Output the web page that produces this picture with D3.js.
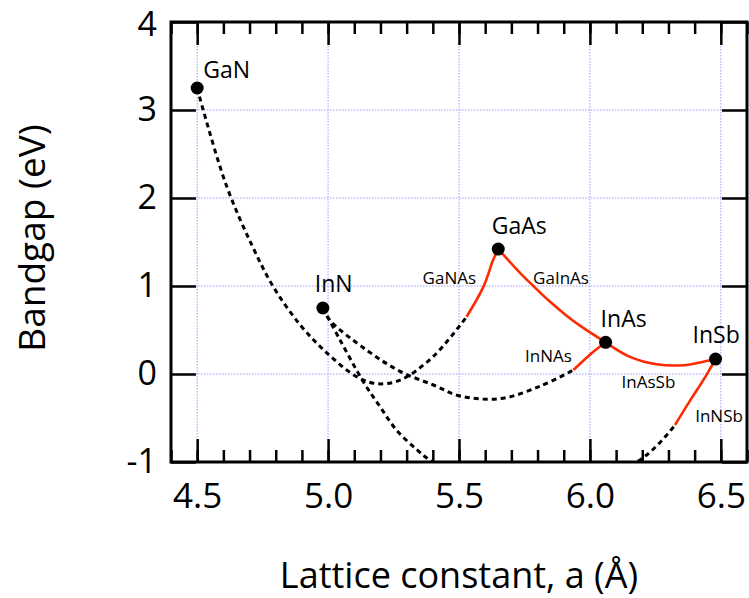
<!DOCTYPE html>
<html>
<head>
<meta charset="utf-8">
<script src="https://cdn.jsdelivr.net/npm/d3@7"></script>
<style>
  body{margin:0;background:#fff;}
  svg{display:block;font-family:"Open Sans",Lato,sans-serif;}
</style>
</head>
<body>
<div id="chart"></div>
<script>
// binary end points: lattice constant (A) and bandgap (eV)
var materials = ["GaN", "InN", "GaAs", "InAs", "InSb"];
var latticeA = [4.50, 4.98, 5.65, 6.06, 6.48];
var bandgapEg = [3.25, 0.75, 1.42, 0.36, 0.17];

// alloy curves, [a, Eg]
var gaNAsDash = [[4.50,3.25],[4.523,3.00],[4.613,2.13],[4.708,1.47],[4.791,0.99],[4.893,0.56],[4.995,0.24],
  [5.109,-0.03],[5.186,-0.11],[5.275,-0.07],[5.402,0.20],[5.529,0.65]];
var gaNAsSolid = [[5.529,0.65],[5.593,0.99],[5.631,1.30],[5.65,1.42]];
var gaInAsSolid = [[5.65,1.42],[5.733,1.15],[5.784,1.00],[5.848,0.82],[5.912,0.66],[5.962,0.55],[6.06,0.36]];
var inNAsDash = [[4.98,0.75],[5.007,0.61],[5.148,0.27],[5.275,0.03],[5.402,-0.125],[5.504,-0.25],[5.657,-0.28],
  [5.809,-0.14],[5.937,0.045]];
var inNAsSolid = [[5.937,0.045],[6.00,0.22],[6.06,0.36]];
var inAsSbSolid = [[6.06,0.36],[6.153,0.195],[6.255,0.11],[6.357,0.10],[6.433,0.14],[6.48,0.17]];
// InNSb dips below the axis; the hidden part is only a rough guess, it is clipped
var inNSbDash = [[4.98,0.75],[5.045,0.39],[5.135,-0.09],[5.198,-0.37],[5.262,-0.64],[5.339,-0.86],[5.389,-0.98],
  [5.6,-1.35],[5.8,-1.44],[6.0,-1.28],[6.217,-0.92],[6.325,-0.58]];
var inNSbSolid = [[6.325,-0.58],[6.383,-0.30],[6.433,-0.07],[6.48,0.17]];

// alloy names and where their labels sit, [a, Eg]
var alloyNames = ["GaNAs", "GaInAs", "InNAs", "InAsSb", "InNSb"];
var alloyLabelAt = [[5.361,1.02],[5.783,1.02],[5.752,0.136],[6.121,-0.159],[6.402,-0.542]];

var xMajor = [4.5, 5.0, 5.5, 6.0, 6.5];
var yMajor = [-1, 0, 1, 2, 3, 4];

var width = 749, height = 598;
var x = d3.scaleLinear().domain([4.4, 6.6]).range([171, 747]),
  y = d3.scaleLinear().domain([-1, 4]).range([462, 22]);

var svg = d3.select("#chart").append("svg")
  .attr("width", width).attr("height", height);

svg.append("clipPath").attr("id", "plotclip").append("rect")
  .attr("x", 171).attr("y", 22).attr("width", 576).attr("height", 440);

// grid
var grid = svg.append("g").attr("stroke", "#9a9aff").attr("stroke-width", 1).attr("stroke-dasharray", "1.5,1.5");
grid.selectAll(".gx").data(xMajor).enter().append("line")
  .attr("x1", x).attr("x2", x).attr("y1", y(4)).attr("y2", y(-1));
grid.selectAll(".gy").data([0, 1, 2, 3]).enter().append("line")
  .attr("x1", x(4.4)).attr("x2", x(6.6)).attr("y1", y).attr("y2", y);

// axes, ticks pointing inwards
function styleAxis(g){
  g.select(".domain").remove();
  g.selectAll(".tick line").attr("stroke", "#000").attr("stroke-width", 2.5);
  g.selectAll("text").attr("fill", "#000").attr("font-size", 35).attr("font-family", "Open Sans");
}
var minorX = d3.range(44, 67).map(function(d){ return d / 10; });

svg.append("g").attr("transform", "translate(0,462)")
  .call(d3.axisBottom(x).tickValues(minorX).tickSizeInner(-12).tickSizeOuter(0).tickFormat(""))
  .call(styleAxis);
svg.append("g").attr("transform", "translate(0,462)")
  .call(d3.axisBottom(x).tickValues(xMajor).tickSizeInner(-23).tickSizeOuter(0)
    .tickPadding(21).tickFormat(d3.format(".1f")))
  .call(styleAxis);
svg.append("g").attr("transform", "translate(0,22)")
  .call(d3.axisTop(x).tickValues(minorX).tickSizeInner(-12).tickSizeOuter(0).tickFormat(""))
  .call(styleAxis);
svg.append("g").attr("transform", "translate(0,22)")
  .call(d3.axisTop(x).tickValues(xMajor).tickSizeInner(-23).tickSizeOuter(0).tickFormat(""))
  .call(styleAxis);
var yAxisG = svg.append("g").attr("transform", "translate(171,0)")
  .call(d3.axisLeft(y).tickValues(yMajor).tickSizeInner(-25).tickSizeOuter(0).tickPadding(14)
    .tickFormat(function(d){ return String(d); }))
  .call(styleAxis);
yAxisG.selectAll("text").attr("font-size", 34);
// top label sits right at the frame edge, nudge it so it stays on the page
yAxisG.selectAll(".tick").filter(function(d){ return d === 4; }).select("text").attr("y", 3);
svg.append("g").attr("transform", "translate(747,0)")
  .call(d3.axisRight(y).tickValues(yMajor).tickSizeInner(-25).tickSizeOuter(0).tickFormat(""))
  .call(styleAxis);

// frame
svg.append("rect").attr("x", 171).attr("y", 22).attr("width", 576).attr("height", 440)
  .attr("fill", "none").attr("stroke", "#000").attr("stroke-width", 3);

// curves
var line = d3.line()
  .x(function(d){ return x(d[0]); })
  .y(function(d){ return y(d[1]); })
  .curve(d3.curveCatmullRom.alpha(0.5));

var curves = svg.append("g").attr("clip-path", "url(#plotclip)").attr("fill", "none");
[gaNAsDash, inNAsDash, inNSbDash].forEach(function(c){
  curves.append("path").attr("d", line(c))
    .attr("stroke", "#000").attr("stroke-width", 3).attr("stroke-dasharray", "5,4");
});
[gaNAsSolid, gaInAsSolid, inNAsSolid, inAsSbSolid, inNSbSolid].forEach(function(c){
  curves.append("path").attr("d", line(c))
    .attr("stroke", "#ff2a00").attr("stroke-width", 2.6);
});

// binaries
svg.selectAll(".dot").data(materials).enter().append("circle")
  .attr("cx", function(d, i){ return x(latticeA[i]); })
  .attr("cy", function(d, i){ return y(bandgapEg[i]); })
  .attr("r", 6.5).attr("fill", "#000");

var nameOffset = {GaN: [6, -10], InN: [-8, -16], GaAs: [-6.5, -15], InAs: [-5, -15], InSb: [-23, -16]};
svg.selectAll(".name").data(materials).enter().append("text")
  .attr("x", function(d, i){ return x(latticeA[i]) + nameOffset[d][0]; })
  .attr("y", function(d, i){ return y(bandgapEg[i]) + nameOffset[d][1]; })
  .attr("font-size", 23).text(function(d){ return d; });

svg.selectAll(".alloy").data(alloyNames).enter().append("text")
  .attr("x", function(d, i){ return x(alloyLabelAt[i][0]); })
  .attr("y", function(d, i){ return y(alloyLabelAt[i][1]); })
  .attr("font-size", 17).text(function(d){ return d; });

// axis titles
svg.append("text").attr("x", 459).attr("y", 588).attr("text-anchor", "middle")
  .attr("font-size", 36).text("Lattice constant, a (\u00c5)");
svg.append("text").attr("transform", "translate(45,238) rotate(-90)").attr("text-anchor", "middle")
  .attr("font-size", 37).text("Bandgap (eV)");
</script>
</body>
</html>
